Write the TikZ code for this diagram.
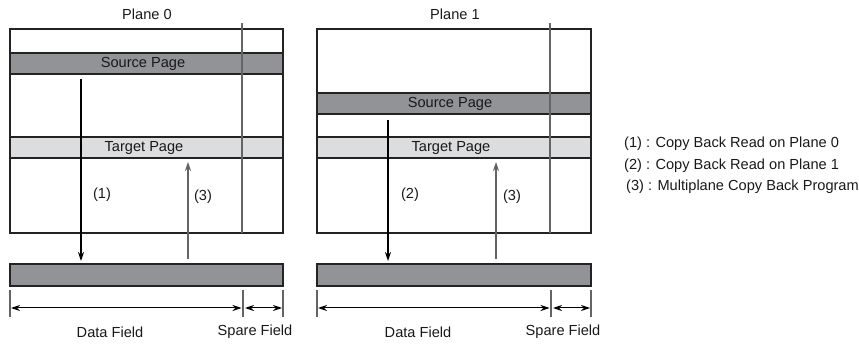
\documentclass[tikz,border=0pt]{standalone}
\usepackage{fontspec}
\setmainfont{Liberation Sans}
\usetikzlibrary{arrows.meta}
\definecolor{darkfill}{RGB}{146,147,150}
\definecolor{lightfill}{RGB}{220,221,223}
\definecolor{edge}{RGB}{35,35,35}
\definecolor{greyline}{RGB}{100,100,100}
\tikzset{
  lbl/.style={font=\fontsize{14.6}{16}\selectfont, inner sep=0pt, text=black!90},
  plane/.style={draw=edge, line width=1.1pt, fill=white},
  darkband/.style={draw=edge, line width=1.1pt, fill=darkfill},
  lightband/.style={draw=edge, line width=1.1pt, fill=lightfill},
  spareline/.style={draw=greyline, line width=1.2pt},
  readarrow/.style={draw=black, line width=1.1pt, -{Stealth[length=9pt,width=6pt]}},
  progarrow/.style={draw=greyline, line width=1.2pt, -{Stealth[length=9pt,width=6pt,fill=black]}},
  dimarrow/.style={draw=black, line width=1pt, {Stealth[length=9pt,width=6pt]}-{Stealth[length=9pt,width=6pt]}},
  tick/.style={draw=greyline, line width=1.1pt}
}
\begin{document}
\begin{tikzpicture}[x=1pt,y=-1pt]
\useasboundingbox (0,0) rectangle (859,344);
% ---------- Plane 0 ----------
\node[lbl] (p0title) at (147,14) {Plane 0};
\draw[plane] (10,29) rectangle (283,233);
\draw[darkband] (10,53) rectangle (283,74);
\node[lbl] (src0) at (143,64) {Source Page};
\draw[lightband] (10,137) rectangle (283,158);
\node[lbl] (tgt0) at (144,147.5) {Target Page};
\coordinate (sp0t) at (242,23);
\coordinate (sp0b) at (242,233);
\draw[spareline] (sp0t) -- (sp0b);
\draw[darkband] (10,264) rectangle (283,286);
\coordinate (a1s) at (81,79);
\coordinate (a1e) at (81,261);
\draw[readarrow] (a1s) -- (a1e);
\node[lbl] (l1) at (102,195) {(1)};
\coordinate (a3s) at (188,259);
\coordinate (a3e) at (188,162);
\draw[progarrow] (a3s) -- (a3e);
\node[lbl] (l3a) at (203,197) {(3)};
% dimensions
\coordinate (t0a) at (10,290); \coordinate (t0b) at (10,317);
\coordinate (t0c) at (243,290); \coordinate (t0d) at (243,317);
\coordinate (t0e) at (283,290); \coordinate (t0f) at (283,317);
\draw[tick] (t0a) -- (t0b);
\draw[tick] (t0c) -- (t0d);
\draw[tick] (t0e) -- (t0f);
\coordinate (d0a) at (11,308); \coordinate (d0b) at (241.5,308);
\coordinate (d0c) at (245,308); \coordinate (d0d) at (282,308);
\draw[dimarrow] (d0a) -- (d0b);
\draw[dimarrow] (d0c) -- (d0d);
\node[lbl] (df0) at (110,332) {Data Field};
\node[lbl] (sf0) at (255,332) {Spare Field};
% ---------- Plane 1 ----------
\node[lbl] (p1title) at (455,14) {Plane 1};
\draw[plane] (317,29) rectangle (591,233);
\draw[darkband] (317,93) rectangle (591,114);
\node[lbl] (src1) at (450,104) {Source Page};
\draw[lightband] (317,137) rectangle (591,158);
\node[lbl] (tgt1) at (451,147.5) {Target Page};
\coordinate (sp1t) at (550,23);
\coordinate (sp1b) at (550,233);
\draw[spareline] (sp1t) -- (sp1b);
\draw[darkband] (317,264) rectangle (591,286);
\coordinate (a2s) at (388,120);
\coordinate (a2e) at (388,261);
\draw[readarrow] (a2s) -- (a2e);
\node[lbl] (l2) at (410,195) {(2)};
\coordinate (a3bs) at (496,259);
\coordinate (a3be) at (496,162);
\draw[progarrow] (a3bs) -- (a3be);
\node[lbl] (l3b) at (512,197) {(3)};
\coordinate (t1a) at (317,290); \coordinate (t1b) at (317,317);
\coordinate (t1c) at (551,290); \coordinate (t1d) at (551,317);
\coordinate (t1e) at (591,290); \coordinate (t1f) at (591,317);
\draw[tick] (t1a) -- (t1b);
\draw[tick] (t1c) -- (t1d);
\draw[tick] (t1e) -- (t1f);
\coordinate (d1a) at (318,308); \coordinate (d1b) at (549.5,308);
\coordinate (d1c) at (553,308); \coordinate (d1d) at (590,308);
\draw[dimarrow] (d1a) -- (d1b);
\draw[dimarrow] (d1c) -- (d1d);
\node[lbl] (df1) at (418,332) {Data Field};
\node[lbl] (sf1) at (563,332) {Spare Field};
% ---------- Legend ----------
\node[lbl, anchor=west] (leg1) at (624,144) {(1) : Copy Back Read on Plane 0};
\node[lbl, anchor=west] (leg2) at (624,166) {(2) : Copy Back Read on Plane 1};
\node[lbl, anchor=west] (leg3) at (626,187) {(3) : Multiplane Copy Back Program};
\end{tikzpicture}
\end{document}
